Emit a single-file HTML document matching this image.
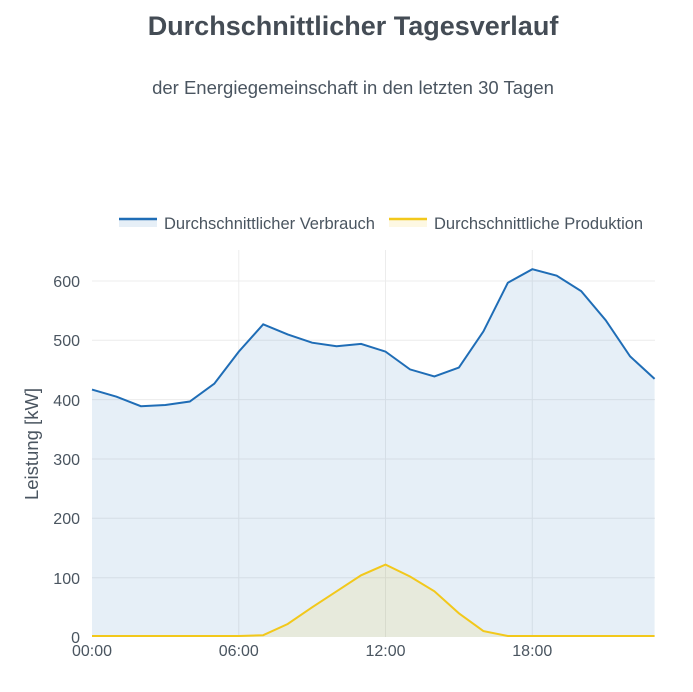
<!DOCTYPE html>
<html><head><meta charset="utf-8"><style>
body{margin:0;background:#fff;width:693px;height:687px;overflow:hidden;font-family:"Liberation Sans",sans-serif;}
</style></head><body>
<svg width="693" height="687" xmlns="http://www.w3.org/2000/svg" font-family="Liberation Sans, sans-serif">
<text x="353" y="35" text-anchor="middle" font-size="27" font-weight="bold" fill="#444c55">Durchschnittlicher Tagesverlauf</text>
<text x="353" y="94" text-anchor="middle" font-size="18.5" fill="#4a5560">der Energiegemeinschaft in den letzten 30 Tagen</text>
<g stroke="#ececec" stroke-width="1">
<line x1="92" x2="655" y1="577.7" y2="577.7"/><line x1="92" x2="655" y1="518.3" y2="518.3"/><line x1="92" x2="655" y1="459" y2="459"/><line x1="92" x2="655" y1="399.6" y2="399.6"/><line x1="92" x2="655" y1="340.3" y2="340.3"/><line x1="92" x2="655" y1="281" y2="281"/>
<line x1="238.8" x2="238.8" y1="250" y2="637"/><line x1="385.5" x2="385.5" y1="250" y2="637"/><line x1="532.3" x2="532.3" y1="250" y2="637"/>
</g>
<polygon fill="rgba(31,111,185,0.11)" points="92,637 92,389.6 116.5,396.7 140.9,406.2 165.4,405 189.8,401.5 214.3,383.7 238.8,351.6 263.2,324.3 287.7,334.4 312.1,342.7 336.6,346.3 361.1,343.9 385.5,351.6 410,369.4 434.4,376.5 458.9,367.6 483.4,331.4 507.8,282.8 532.3,269.2 556.7,275.7 581.2,291.1 605.7,320.2 630.1,356.4 654.6,378.9 654.6,637"/>
<polygon fill="rgba(242,200,27,0.12)" points="92,637 238.8,637 263.2,635.2 287.7,624 312.1,607.3 336.6,591.3 361.1,575.3 385.5,564.6 410,576.5 434.4,591.3 458.9,613.3 483.4,631.1 507.8,637"/>
<polyline fill="none" stroke="#1f6db6" stroke-width="2" points="92,389.6 116.5,396.7 140.9,406.2 165.4,405 189.8,401.5 214.3,383.7 238.8,351.6 263.2,324.3 287.7,334.4 312.1,342.7 336.6,346.3 361.1,343.9 385.5,351.6 410,369.4 434.4,376.5 458.9,367.6 483.4,331.4 507.8,282.8 532.3,269.2 556.7,275.7 581.2,291.1 605.7,320.2 630.1,356.4 654.6,378.9"/>
<polyline fill="none" stroke="#f2c81b" stroke-width="2" points="92,636 238.8,636 263.2,635.2 287.7,624 312.1,607.3 336.6,591.3 361.1,575.3 385.5,564.6 410,576.5 434.4,591.3 458.9,613.3 483.4,631.1 507.8,636 654.6,636"/>
<g font-size="16" fill="#4a5560" text-anchor="end">
<text x="80" y="643">0</text><text x="80" y="584">100</text><text x="80" y="524">200</text><text x="80" y="465">300</text><text x="80" y="406">400</text><text x="80" y="346">500</text><text x="80" y="287">600</text>
</g>
<g font-size="16" fill="#4a5560" text-anchor="middle">
<text x="92" y="656">00:00</text><text x="238.8" y="656">06:00</text><text x="385.5" y="656">12:00</text><text x="532.3" y="656">18:00</text>
</g>
<text transform="translate(38,444) rotate(-90)" text-anchor="middle" font-size="18.5" fill="#4a5560">Leistung [kW]</text>
<rect x="119" y="219" width="38" height="8" fill="rgba(31,111,185,0.11)"/>
<line x1="119" x2="157" y1="219" y2="219" stroke="#1f6db6" stroke-width="2.5"/>
<text x="164" y="229" font-size="16.5" fill="#4a5560">Durchschnittlicher Verbrauch</text>
<rect x="389" y="219" width="38" height="8" fill="rgba(242,200,27,0.12)"/>
<line x1="389" x2="427" y1="219" y2="219" stroke="#f2c81b" stroke-width="2.5"/>
<text x="434" y="229" font-size="16.5" fill="#4a5560">Durchschnittliche Produktion</text>
</svg>
</body></html>
